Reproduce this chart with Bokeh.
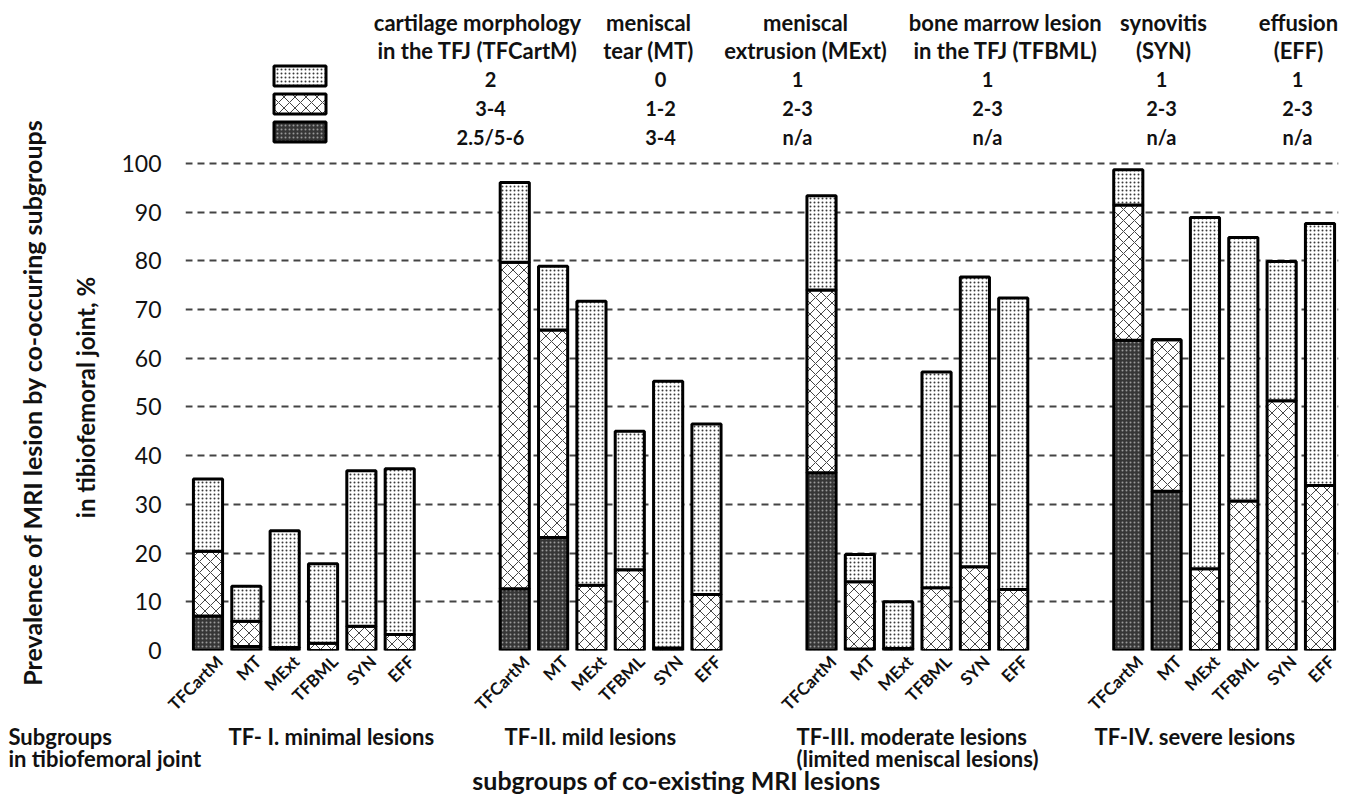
import math
from bokeh.plotting import figure
from bokeh.layouts import column, row
from bokeh.models import (ColumnDataSource, Range1d, FixedTicker, Label,
                          Legend, LegendItem)
from bokeh.core.properties import value
from bokeh.embed import file_html
from bokeh.resources import INLINE

# ---------------- data ----------------
groups = ["TF- I.  minimal  lesions", "TF-II.   mild lesions",
          "TF-III.  moderate lesions", "TF-IV. severe lesions"]
group_note = "(limited meniscal lesions)"
lesions = ["TFCartM", "MT", "MExt", "TFBML", "SYN", "EFF"]

# highest grade (dark) segment, per group, per lesion
dark_g1 = [7.1, 0.8, 0.0, 0.0, 0.0, 0.0]
dark_g2 = [12.7, 23.2, 0.0, 0.0, 0.0, 0.0]
dark_g3 = [36.5, 0.3, 0.0, 0.0, 0.0, 0.0]
dark_g4 = [63.7, 32.7, 0.0, 0.0, 0.0, 0.0]
# middle grade (cross-hatched) segment
cross_g1 = [13.3, 5.2, 0.6, 1.5, 5.0, 3.3]
cross_g2 = [67.0, 42.6, 13.4, 16.6, 0.5, 11.5]
cross_g3 = [37.5, 13.8, 0.4, 12.9, 17.2, 12.5]
cross_g4 = [27.8, 31.1, 16.8, 30.7, 51.3, 33.9]
# lowest grade (dotted) segment
dots_g1 = [14.8, 7.2, 24.0, 16.3, 31.9, 34.0]
dots_g2 = [16.4, 13.1, 58.3, 28.4, 54.8, 35.0]
dots_g3 = [19.4, 5.6, 9.6, 44.3, 59.5, 59.9]
dots_g4 = [7.2, 0.0, 72.1, 54.1, 28.6, 53.8]

# legend table
head_line1 = ["cartilage morphology", "meniscal", "meniscal",
              "bone marrow lesion", "synovitis", "effusion"]
head_line2 = ["in the TFJ (TFCartM)", "tear (MT)", "extrusion (MExt)",
              "in the TFJ (TFBML)", "(SYN)", "(EFF)"]
grade_dots = ["2", "0", "1", "1", "1", "1"]
grade_cross = ["3-4", "1-2", "2-3", "2-3", "2-3", "2-3"]
grade_dark = ["2.5/5-6", "3-4", "n/a", "n/a", "n/a", "n/a"]

y_ticks = [0, 10, 20, 30, 40, 50, 60, 70, 80, 90, 100]
y_title1 = "Prevalence of MRI lesion by co-occuring subgroups"
y_title2 = "in tibiofemoral joint, %"
x_title = "subgroups of co-existing MRI lesions"
row_title1 = "Subgroups"
row_title2 = "in tibiofemoral joint"

# ---------------- layout constants (page pixels) ----------------
W, H = 1339, 795
LW = 100                      # left strip (y-axis title) width
H1 = 724                      # height of the chart row
H2 = H - H1                   # bottom strip with group names
FRAME_L, FRAME_R = 185, 1338
FRAME_T, FRAME_B = 0, 652
SLOT0_PX, SLOT29_PX = 207.5, 1319.5
SLOT_PX = (SLOT29_PX - SLOT0_PX) / 29
UNIT_PX = 4.885
STRIDE = 8
TICK_SHIFT = 0.3              # rotated labels end slightly right of bar centre
FONT = "Lato"
INK = "#111111"

x_start = (FRAME_L - SLOT0_PX) / SLOT_PX
x_end = (FRAME_R - SLOT0_PX) / SLOT_PX
y_end = (FRAME_B - FRAME_T) / UNIT_PX


def dx(px):
    return (px - SLOT0_PX) / SLOT_PX


def dy(py):
    return (FRAME_B - py) / UNIT_PX


xs, names, dk, cr, dt = [], [], [], [], []
for gi, (d, c, t) in enumerate(zip([dark_g1, dark_g2, dark_g3, dark_g4],
                                   [cross_g1, cross_g2, cross_g3, cross_g4],
                                   [dots_g1, dots_g2, dots_g3, dots_g4])):
    for li, name in enumerate(lesions):
        xs.append(gi * STRIDE + li)
        names.append(name)
        dk.append(d[li]); cr.append(c[li]); dt.append(t[li])

src = ColumnDataSource(dict(x=xs, dark=dk, cross=cr, dots=dt))

p = figure(width=W - LW, height=H1, x_range=Range1d(x_start, x_end),
           y_range=Range1d(0, y_end), output_backend="svg",
           toolbar_location=None,
           min_border_left=FRAME_L - LW, min_border_right=W - FRAME_R,
           min_border_top=FRAME_T, min_border_bottom=H1 - FRAME_B)
p.outline_line_color = None

rs = p.vbar_stack(["dark", "cross", "dots"], x="x", width=0.76, source=src,
                  fill_color=["#363636", "white", "white"],
                  hatch_pattern=["dot", "diagonal_cross", "dot"],
                  hatch_color=["#9a9a9a", "#444444", "#3a3a3a"],
                  hatch_scale=[4, 11, 4], hatch_weight=[1, 1, 1],
                  line_color="black", line_width=3)

# x axis
tick_pos = [round(x + TICK_SHIFT, 2) for x in xs]
p.xaxis.ticker = FixedTicker(ticks=tick_pos)
p.xaxis.major_label_overrides = {t: n for t, n in zip(tick_pos, names)}
p.xaxis.major_label_orientation = math.pi / 4
p.xaxis.major_label_text_font = FONT
p.xaxis.major_label_text_font_style = "bold"
p.xaxis.major_label_text_font_size = "17px"
p.xaxis.major_label_text_color = INK
p.xaxis.major_label_standoff = 8
p.xaxis.major_tick_out = 0
p.xaxis.axis_line_color = None
p.xaxis.major_tick_line_color = None
p.xaxis.minor_tick_line_color = None

# y axis
p.yaxis.ticker = FixedTicker(ticks=y_ticks)
p.yaxis.major_label_text_font = FONT
p.yaxis.major_label_text_font_size = "23px"
p.yaxis.major_label_text_color = INK
p.yaxis.major_label_standoff = 24
p.yaxis.major_tick_out = 0
p.yaxis.axis_line_color = None
p.yaxis.major_tick_line_color = None
p.yaxis.minor_tick_line_color = None

p.xgrid.visible = False
p.ygrid.ticker = FixedTicker(ticks=y_ticks)
p.ygrid.grid_line_color = "#444444"
p.ygrid.grid_line_width = 2
p.ygrid.grid_line_dash = "7 5"

# legend swatches (legend glyphs are drawn with a 10% inset)
GW, GH = 65, 25
legend = Legend(items=[LegendItem(label=" ", renderers=[rs[2]]),
                       LegendItem(label=" ", renderers=[rs[1]]),
                       LegendItem(label=" ", renderers=[rs[0]])],
                location=(273 - 6.5 - FRAME_L, FRAME_B - 64.5 - 3 * GH - 6),
                orientation="vertical", glyph_width=GW, glyph_height=GH,
                spacing=3, padding=0, margin=0, label_width=0,
                label_standoff=0, label_height=GH, label_text_font_size="1px",
                border_line_alpha=0, background_fill_alpha=0)
p.add_layout(legend)


def lab(text, px, py, size):
    p.add_layout(Label(x=dx(px), y=dy(py), text=text, text_align="center",
                       text_baseline="middle", text_font=FONT,
                       text_font_size=f"{size}px", text_font_style="bold",
                       text_color=INK))


head_px = [477, 648, 805, 1005, 1163, 1298]
grade_px = [490, 660, 797, 987, 1161, 1297]
for i in range(len(lesions)):
    lab(head_line1[i], head_px[i], 22, 22)
    lab(head_line2[i], head_px[i], 50, 22)
    lab(grade_dots[i], grade_px[i], 79, 20)
    lab(grade_cross[i], grade_px[i], 108, 20)
    lab(grade_dark[i], grade_px[i], 137, 20)

# ---------------- left strip: y-axis title (two lines) ----------------
left = figure(width=LW, height=H1, x_range=Range1d(0, LW),
              y_range=Range1d(0, H1), output_backend="svg",
              toolbar_location=None, min_border=0,
              x_axis_type=None, y_axis_type=None)
left.outline_line_color = None
left.grid.visible = False
left.text(x=[31], y=[H1 - 402], text=[y_title1],
          angle=math.pi / 2, text_align="center", text_baseline="middle",
          text_font=value(FONT), text_font_size="25px",
          text_font_style="bold", text_color=INK)
left.text(x=[85], y=[H1 - 397], text=[y_title2],
          angle=math.pi / 2, text_align="center", text_baseline="middle",
          text_font=value(FONT), text_font_size="24px",
          text_font_style="bold", text_color=INK)

# ---------------- bottom strip: group names + x title ----------------
bottom = figure(width=W, height=H2, x_range=Range1d(0, W),
                y_range=Range1d(0, H2), output_backend="svg",
                toolbar_location=None, min_border=0,
                x_axis_type=None, y_axis_type=None)
bottom.outline_line_color = None
bottom.grid.visible = False
bt_text = [row_title1, groups[0], groups[1], groups[2], groups[3],
           row_title2, group_note]
bt_x = [8, 228, 504, 796, 1094, 8, 796]
bt_y = [736, 736, 736, 736, 736, 758, 758]
bottom.text(x=bt_x, y=[H - v for v in bt_y], text=bt_text,
            text_align="left", text_baseline="middle",
            text_font=value(FONT), text_font_size="22px",
            text_font_style="bold", text_color=INK)
bottom.text(x=[676], y=[H - 779], text=[x_title], text_align="center",
            text_baseline="middle", text_font=value(FONT),
            text_font_size="25px", text_font_style="bold", text_color=INK)

# nesting keeps Bokeh from aligning the strips' frames with the chart frame
layout = column(row(column(left), p), bottom)
open("out.html", "w").write(file_html(layout, INLINE))
